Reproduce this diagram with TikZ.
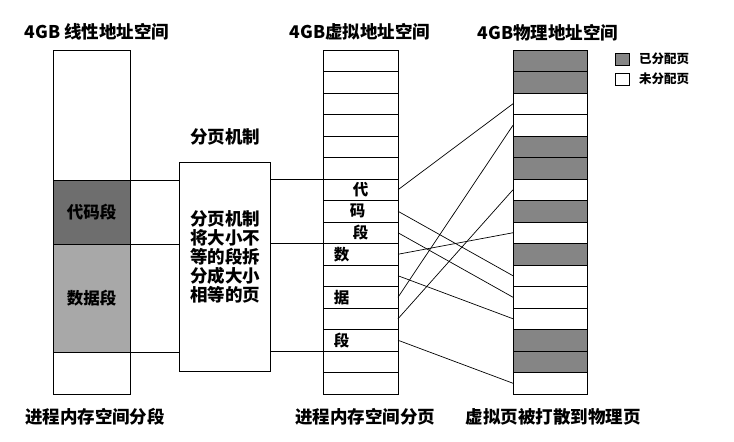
\documentclass[tikz,border=0pt]{standalone}
\usepackage{fontspec}
\setmainfont{Noto Sans CJK SC}
\definecolor{physgray}{HTML}{858585}
\definecolor{codegray}{HTML}{6E6E6E}
\definecolor{datagray}{HTML}{A8A8A8}
\begin{document}
\begin{tikzpicture}[x=1pt,y=-1pt,
  every node/.style={inner sep=0pt, outer sep=0pt},
  boxline/.style={draw=black, line width=0.9pt},
  seg/.style={boxline, minimum width=77pt, anchor=north west, font=\bfseries\fontsize{16.5}{18}\selectfont},
  vrow/.style={boxline, fill=white, minimum width=75pt, minimum height=21.5pt, anchor=north west},
  prow/.style={boxline, minimum width=74pt, minimum height=21.5pt, anchor=north west},
  used/.style={fill=physgray},
  free/.style={fill=white},
  title/.style={font=\bfseries\fontsize{17.5}{19}\selectfont},
  rowlbl/.style={font=\bfseries\fontsize{15.5}{17}\selectfont},
  legtxt/.style={font=\bfseries\fontsize{12.5}{14}\selectfont, anchor=west},
  conn/.style={draw=black, line width=0.7pt}
]
\useasboundingbox (0,0) rectangle (734,442);

% titles
\node[title] (t1) at (97,32) {4GB 线性地址空间};
\node[title] (t2) at (360,32) {4GB虚拟地址空间};
\node[title] (t3) at (548,33) {4GB物理地址空间};

% left column (segments)
\node[seg, fill=white, minimum height=130pt] (top) at (53,50) {};
\node[seg, fill=codegray, minimum height=64pt] (code) at (53,180) {代码段};
\node[seg, fill=datagray, minimum height=108pt] (data) at (53,244) {数据段};
\node[seg, fill=white, minimum height=42pt] (bot) at (53,352) {};

% paging box
\node[title] (pgt) at (225,137) {分页机制};
\node[boxline, fill=white, minimum width=91pt, minimum height=209pt, anchor=north west] (pg) at (179,162) {};
\node[align=center, font=\bfseries\fontsize{17.5}{19}\selectfont] (pgtext) at (225,257) {分页机制\\将大小不\\等的段拆\\分成大小\\相等的页};

% virtual rows
\foreach \i in {1,...,16} {
  \node[vrow] (v\i) at (323,{50+21.5*(\i-1)}) {};
}
% physical rows
\foreach \i/\s in {1/used,2/used,3/free,4/free,5/used,6/used,7/free,8/used,9/free,10/used,11/free,12/free,13/free,14/used,15/used,16/free} {
  \node[prow,\s] (p\i) at (513,{50+21.5*(\i-1)}) {};
}

% row labels
\node[rowlbl] (l1) at (v7.center) {代};
\node[rowlbl] (l2) at ([xshift=-3pt]v8.center) {码};
\node[rowlbl] (l3) at (v9.center) {段};
\node[rowlbl] (l4) at ([xshift=-19pt]v10.center) {数};
\node[rowlbl] (l5) at ([xshift=-19pt]v12.center) {据};
\node[rowlbl] (l6) at ([xshift=-19pt]v14.center) {段};

% horizontal connectors
\draw[conn] (code.north east) -- (code.north east -| pg.west);
\draw[conn] (pg.east |- v7.north west) -- (v7.north west);
\draw[conn] (data.north east) -- (data.north east -| pg.west);
\draw[conn] (pg.east |- v10.north west) -- (v10.north west);
\draw[conn] (bot.north east) -- (bot.north east -| pg.west);
\draw[conn] (pg.east |- v15.north west) -- (v15.north west);

% virtual -> physical
\foreach \a/\b in {7/3,8/11,9/12,10/9,11/13,12/4,13/7,14/16} {
  \draw[conn] (v\a.east) -- (p\b.west);
}

% legend
\node[boxline, fill=physgray, minimum width=14pt, minimum height=12pt, anchor=north west] (lg1) at (615,53) {};
\node[legtxt] (lg1t) at (639,59) {已分配页};
\node[boxline, fill=white, minimum width=14pt, minimum height=12pt, anchor=north west] (lg2) at (615,73) {};
\node[legtxt] (lg2t) at (639,79) {未分配页};

% bottom labels
\node[title] (b1) at (95,417) {进程内存空间分段};
\node[title] (b2) at (365,417) {进程内存空间分页};
\node[title] (b3) at (553,417) {虚拟页被打散到物理页};
\end{tikzpicture}
\end{document}
